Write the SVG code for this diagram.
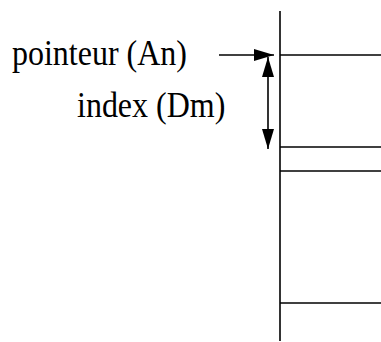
<svg xmlns="http://www.w3.org/2000/svg" width="381" height="342" viewBox="0 0 381 342">
<style>
.l{stroke:#000;stroke-width:1.6;fill:none}
.t{font-family:"Liberation Serif","Times New Roman",serif;font-size:32px;fill:#000}
</style>
<defs>
<marker id="ah" viewBox="0 0 20 12" refX="20" refY="6" markerWidth="20" markerHeight="12" markerUnits="userSpaceOnUse" orient="auto-start-reverse">
<path d="M0,0 L20,6 L0,12 Z" fill="#000"/>
</marker>
</defs>
<g id="memory">
<line class="l" x1="280" y1="11" x2="280" y2="341"/>
<line class="l" x1="280" y1="55" x2="381" y2="55"/>
<line class="l" x1="280" y1="147" x2="381" y2="147"/>
<line class="l" x1="280" y1="171" x2="381" y2="171"/>
<line class="l" x1="280" y1="303" x2="381" y2="303"/>
</g>
<g id="labels">
<text class="t" transform="translate(12,65) scale(1,1.14)">pointeur (An)</text>
<text class="t" transform="translate(77,117) scale(1,1.14)">index (Dm)</text>
</g>
<g id="connectors">
<line class="l" x1="219" y1="55" x2="274" y2="55" marker-end="url(#ah)"/>
<line class="l" x1="268" y1="57" x2="268" y2="149" marker-start="url(#ah)" marker-end="url(#ah)"/>
</g>
</svg>
